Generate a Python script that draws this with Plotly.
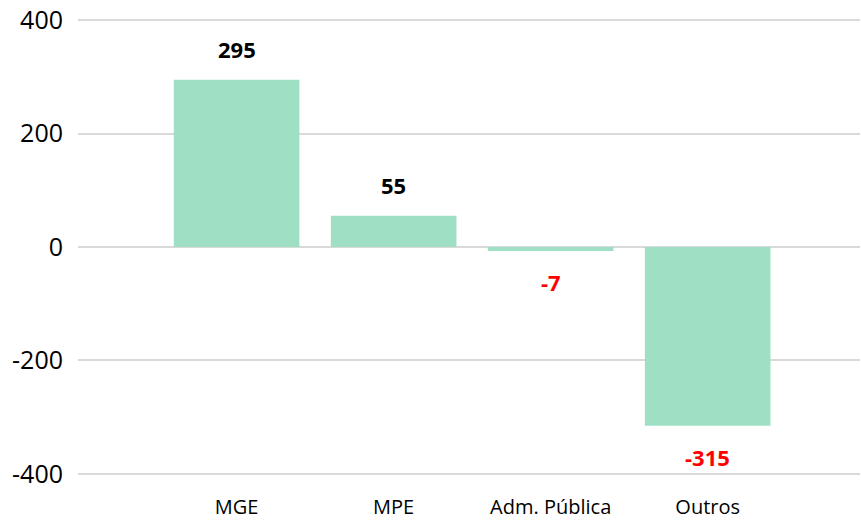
import plotly.graph_objects as go

categories = ["MGE", "MPE", "Adm. Pública", "Outros"]
values = [295, 55, -7, -315]
y_ticks = [-400, -200, 0, 200, 400]

bar_color = "#9FE0C5"
label_colors = ["#000000" if v >= 0 else "#FF0000" for v in values]

fig = go.Figure()
fig.add_trace(go.Bar(
    x=list(range(len(categories))), y=values,
    marker=dict(color=bar_color, line=dict(width=0)),
    width=0.8, showlegend=False, hoverinfo="skip",
))

for i, v in enumerate(values):
    fig.add_annotation(
        x=i, y=v, text=f"<b>{v}</b>", showarrow=False,
        yshift=31 if v >= 0 else -31, yanchor="middle",
        font=dict(size=22, color=label_colors[i], family="Open Sans"),
    )

fig.update_layout(
    width=861, height=520,
    margin=dict(l=78, r=1, t=19, b=45, autoexpand=False),
    plot_bgcolor="white", paper_bgcolor="white",
    font=dict(family="Open Sans", color="#000000"),
    bargap=0.2,
)
fig.update_xaxes(
    tickvals=list(range(len(categories))), ticktext=categories,
    range=[-1.01, 3.97], showgrid=False, zeroline=False, showline=False,
    tickfont=dict(size=20), ticklabelstandoff=18, automargin=False,
    ticklabeloverflow="allow",
)
fig.update_yaxes(
    range=[-402, 402], tickvals=y_ticks, ticktext=[str(t) for t in y_ticks],
    showgrid=True, gridcolor="#D9D9D9", gridwidth=2,
    zeroline=True, zerolinecolor="#D9D9D9", zerolinewidth=2,
    tickfont=dict(size=25), ticklabelstandoff=14, automargin=False,
    ticklabeloverflow="allow",
)
fig.write_html(
    "out.html",
    config={"displayModeBar": False},
    post_script="document.body.style.margin='0';document.body.style.overflow='hidden';",
)
